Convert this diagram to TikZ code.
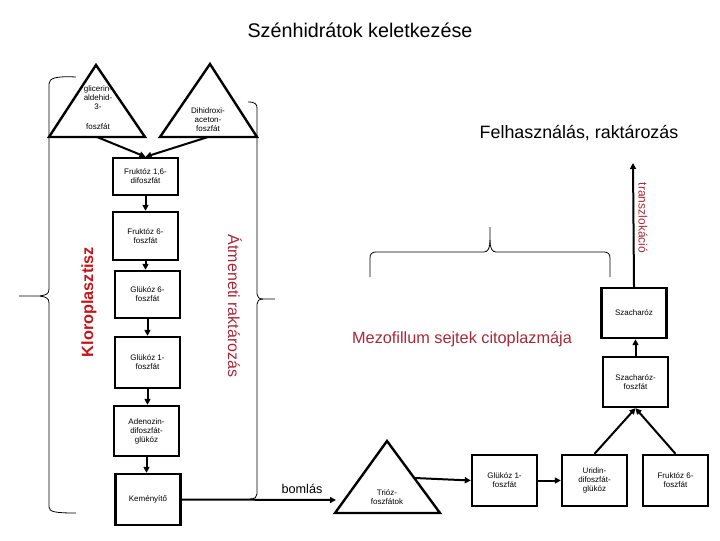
\documentclass[tikz,border=0pt]{standalone}
\usepackage{fontspec}
\setmainfont{Liberation Sans}
\usetikzlibrary{arrows.meta}
\definecolor{kred}{RGB}{200,20,25}
\definecolor{dred}{RGB}{170,40,55}
\begin{document}
\begin{tikzpicture}[x=0.75pt,y=-0.75pt,
  box/.style={draw,line width=1.8pt,minimum width=48.75pt,inner sep=0pt,align=center,font=\fontsize{6}{6.8}\selectfont},
  small/.style={align=center,font=\fontsize{6}{6.8}\selectfont,inner sep=0pt},
  conn/.style={line width=1.5pt,-{Triangle[length=4.5pt,width=4.5pt]}},
  thinline/.style={line width=0.6pt},
  tri/.style={line width=1.8pt,line join=miter}]
\useasboundingbox (0,0) rectangle (720,540);

% title and headings
\node[font=\fontsize{14.8}{17}\selectfont] (title) at (360,30) {Szénhidrátok keletkezése};
\node[font=\fontsize{13.4}{16}\selectfont] (felh) at (579,133) {Felhasználás, raktározás};
\node[font=\fontsize{12.2}{14}\selectfont,text=dred] (mezo) at (462,339) {Mezofillum sejtek citoplazmája};
\node[rotate=90,font=\bfseries\fontsize{12.2}{14}\selectfont,text=kred] (klor) at (89,302) {Kloroplasztisz};
\node[rotate=-90,font=\fontsize{12}{14}\selectfont,text=dred] (atm) at (235,306) {Átmeneti raktározás};
\node[rotate=-90,font=\fontsize{9}{11}\selectfont,text=dred] (transz) at (643,218) {transzlokáció};
\node[font=\fontsize{9.5}{11}\selectfont] (bomlas) at (302,489) {bomlás};

% triangles
\draw[tri] (49,137) -- (96,65) -- (145,137) -- cycle;
\draw[tri] (160,137) -- (210,64) -- (257,137) -- cycle;
\draw[tri] (335,513) -- (387,441) -- (440,513) -- cycle;
\node[small] (gal) at (98,98) {glicerin-\\aldehid-\\3-};
\node[small] (galb) at (98,127) {foszfát};
\node[small] (dhap) at (208,120) {Dihidroxi-\\aceton-\\foszfát};
\node[small] (trioz) at (387,497.5) {Trióz-\\foszfátok};
\coordinate (galB) at (97,137);
\coordinate (dhapB) at (208,137);
\coordinate (trioL) at (336,500);
\coordinate (trioR) at (415,478);

% left column boxes
\node[box,minimum height=27.75pt] (f16) at (145.5,176.5) {Fruktóz 1,6-\\difoszfát};
\node[box,minimum height=36pt] (f6) at (145.5,236) {Fruktóz 6-\\foszfát};
\node[box,minimum height=35.25pt] (g6) at (147.5,294.5) {Glükóz 6-\\foszfát};
\node[box,minimum height=38.25pt] (g1) at (147.5,362.5) {Glükóz 1-\\foszfát};
\node[box,minimum height=37.5pt] (adp) at (146.5,431) {Adenozin-\\difoszfát-\\glükóz};
\node[box,minimum height=38.25pt] (kem) at (148,499.5) {Keményítő};

% right boxes
\node[box,minimum height=37.5pt] (szach) at (634,313) {Szacharóz};
\node[box,minimum height=37.5pt] (szachf) at (635.5,382) {Szacharóz-\\foszfát};
\node[box,minimum height=38.25pt] (g1b) at (504.5,480.5) {Glükóz 1-\\foszfát};
\node[box,minimum height=38.25pt] (udp) at (594.5,480.5) {Uridin-\\difoszfát-\\glükóz};
\node[box,minimum height=38.25pt] (f6b) at (675.5,480.5) {Fruktóz 6-\\foszfát};
\coordinate (use) at (633,163);

% connectors
\draw[conn] (galB) -- (f16.north);
\draw[conn] (dhapB) -- (f16.north);
\draw[conn] (f16.south) -- (f16.south |- f6.north);
\draw[conn] (f6.south) -- (f6.south |- g6.north);
\draw[conn] (g6.south) -- (g6.south |- g1.north);
\draw[conn] (g1.south) -- (g1.south |- adp.north);
\draw[conn] (adp.south) -- (adp.south |- kem.north);
\draw[conn] (kem.east) -- (trioL);
\draw[conn] (trioR) -- (g1b.west);
\draw[conn] (g1b) -- (udp);
\draw[conn] (udp.north) -- (szachf.south);
\draw[conn] (f6b.north) -- (szachf.south);
\draw[conn] (szachf.north) -- (szachf.north |- szach.south);
\draw[conn] (szach.north) -- (use);

% braces
\draw[thinline] (76,77) .. controls (56,76) and (49,78) .. (49,84) -- (49,289)
  .. controls (49,294) and (46,295) .. (40,296) -- (19,296);
\draw[thinline] (40,296) .. controls (46,297) and (49,298) .. (49,303) -- (49,507)
  .. controls (49,512) and (56,513) .. (76,513);
\draw[thinline] (248,102) .. controls (255,102) and (257,104) .. (257,108) -- (257,294)
  .. controls (257,297) and (259,299) .. (263,299) -- (275,299);
\draw[thinline] (263,299) .. controls (259,299) and (257,301) .. (257,304) -- (257,494)
  .. controls (257,497) and (255,499) .. (250,499);
\draw[thinline] (370,277) -- (370,258) .. controls (370,254) and (372,252) .. (376,252) -- (484,252)
  .. controls (488,252) and (490,248) .. (490,240) -- (490,227);
\draw[thinline] (490,240) .. controls (490,248) and (492,252) .. (496,252) -- (604,252)
  .. controls (608,252) and (610,254) .. (610,258) -- (610,277);
\end{tikzpicture}
\end{document}
